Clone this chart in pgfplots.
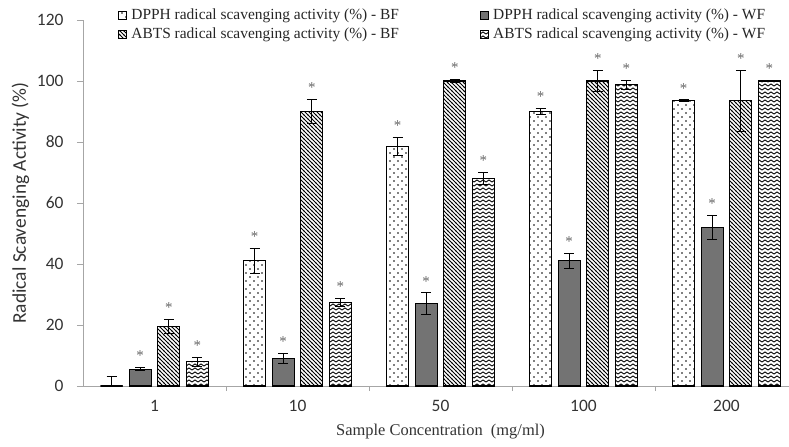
\documentclass[border=0pt]{standalone}
\usepackage{pgfplots}
\usepackage{pgfplotstable}
\pgfplotsset{compat=1.18}
\usetikzlibrary{patterns}
\usepackage{fontspec}
\setmainfont{Liberation Serif}
\newfontfamily\carl{Carlito}

\pgfdeclarepatternformonly{sparsedots}{\pgfqpoint{-1bp}{-1bp}}{\pgfqpoint{9bp}{9bp}}{\pgfqpoint{8bp}{8bp}}{%
  \pgfpathcircle{\pgfqpoint{2bp}{2bp}}{0.8bp}%
  \pgfpathcircle{\pgfqpoint{6bp}{6bp}}{0.8bp}%
  \pgfusepath{fill}}
\pgfdeclarepatternformonly{zigzag}{\pgfqpoint{-1bp}{-1bp}}{\pgfqpoint{7bp}{5bp}}{\pgfqpoint{6bp}{4bp}}{%
  \pgfsetlinewidth{0.9bp}%
  \pgfpathmoveto{\pgfqpoint{0bp}{1bp}}%
  \pgfpathlineto{\pgfqpoint{3bp}{3bp}}%
  \pgfpathlineto{\pgfqpoint{6bp}{1bp}}%
  \pgfusepath{stroke}}
\pgfdeclarepatternformonly{nwlines}{\pgfqpoint{-1bp}{-1bp}}{\pgfqpoint{5bp}{5bp}}{\pgfqpoint{4bp}{4bp}}{%
  \pgfsetlinewidth{0.9bp}%
  \pgfpathmoveto{\pgfqpoint{-0.5bp}{4.5bp}}%
  \pgfpathlineto{\pgfqpoint{4.5bp}{-0.5bp}}%
  \pgfusepath{stroke}}

\pgfplotstableread{
x y errp errm s
0 0 3 0 {}
1 41 4 4 *
2 78.5 3 3 *
3 90 1 1 *
4 93.5 0.3 0.3 *
}\dpphbf
\pgfplotstableread{
x y errp errm s
0 5.5 0.5 0.5 *
1 9 1.7 1.7 *
2 27 3.5 3.5 *
3 41 2.5 2.5 *
4 52 4 4 *
}\dpphwf
\pgfplotstableread{
x y errp errm s
0 19.5 2.2 2.2 *
1 90 4 4 *
2 100 0.4 0.4 *
3 100 3.5 3.5 *
4 93.5 10 10 *
}\abtsbf
\pgfplotstableread{
x y errp errm s
0 8 1.5 1.5 *
1 27.5 1.3 1.3 *
2 68 2 2 *
3 98.8 1.5 1.5 *
4 100 0.3 0.3 *
}\abtswf

\begin{document}
\begin{tikzpicture}
\begin{axis}[
  at={(83bp,61bp)}, anchor=south west,
  scale only axis,
  width=715bp, height=366bp,
  ybar, bar width=0.155,
  xmin=-0.5, xmax=4.5,
  ymin=0, ymax=120,
  ytick={0,20,...,120},
  xtick={0,1,2,3,4},
  xticklabels={1,10,50,100,200},
  minor xtick={0.5,1.5,2.5,3.5},
  major x tick style={draw=none},
  minor x tick style={gray!70, line width=0.8bp},
  minor tick length=5bp,
  major tick length=6bp,
  tick align=outside,
  y tick style={gray!70, line width=0.8bp},
  axis x line*=bottom, axis y line*=left,
  axis line style={gray!70, line width=0.8bp, -},
  /pgf/number format/assume math mode=true,
  tick label style={font=\carl\fontsize{17.5}{17.5}\selectfont, text=black!80},
  yticklabel style={xshift=-10bp},
  xticklabel style={yshift=-5bp},
  xlabel={Sample Concentration \ (mg/ml)},
  xlabel style={font=\fontsize{16.5}{16.5}\selectfont, text=black!80, yshift=-5bp},
  ylabel={Radical Scavenging Activity (\%)},
  ylabel style={font=\carl\fontsize{19.5}{19.5}\selectfont, text=black!80, yshift=1bp},
  legend columns=2,
  legend style={draw=none, fill=none, at={(0.049,1.036)}, anchor=north west,
    font=\fontsize{15.5}{15.5}\selectfont, text=black!85,
    row sep=3bp, inner sep=0pt,
    /tikz/every odd column/.append style={column sep=0bp},
    /tikz/every even column/.append style={column sep=79bp}},
  legend cell align=left,
  legend image code/.code={\draw[#1, line width=0.7bp] (0bp,-4bp) rectangle (8bp,4bp);},
  error bars/y dir=both, error bars/y explicit,
  error bars/error bar style={black, line width=1bp},
  error bars/error mark options={black, line width=1bp, mark size=5bp, rotate=90},
  point meta=explicit symbolic,
  nodes near coords,
  visualization depends on={\thisrow{errp} \as \errval},
  every node near coord/.append style={font=\fontsize{15}{15}\selectfont, text=black!60, yshift=\errval*3.05bp+3bp},
  clip=false,
]
\addplot[draw=black, line width=1.1bp, fill=white, postaction={pattern=sparsedots}, bar shift=-0.3]
  table[x=x, y=y, y error plus=errp, y error minus=errm, meta=s] {\dpphbf};
\addlegendentry{\hspace{2.5bp}DPPH radical scavenging activity (\%) - BF}
\addplot[draw=black, line width=1.1bp, fill=black!55, bar shift=-0.1]
  table[x=x, y=y, y error plus=errp, y error minus=errm, meta=s] {\dpphwf};
\addlegendentry{\hspace{2.5bp}DPPH radical scavenging activity (\%) - WF}
\addplot[draw=black, line width=1.1bp, fill=white, postaction={pattern=nwlines}, bar shift=0.1]
  table[x=x, y=y, y error plus=errp, y error minus=errm, meta=s] {\abtsbf};
\addlegendentry{\hspace{2.5bp}ABTS radical scavenging activity (\%) - BF}
\addplot[draw=black, line width=1.1bp, fill=white, postaction={pattern=zigzag}, bar shift=0.3]
  table[x=x, y=y, y error plus=errp, y error minus=errm, meta=s] {\abtswf};
\addlegendentry{\hspace{2.5bp}ABTS radical scavenging activity (\%) - WF}
\end{axis}
\pgfresetboundingbox
\path[use as bounding box] (0,0) rectangle (789bp,447bp);
\end{tikzpicture}
\end{document}
